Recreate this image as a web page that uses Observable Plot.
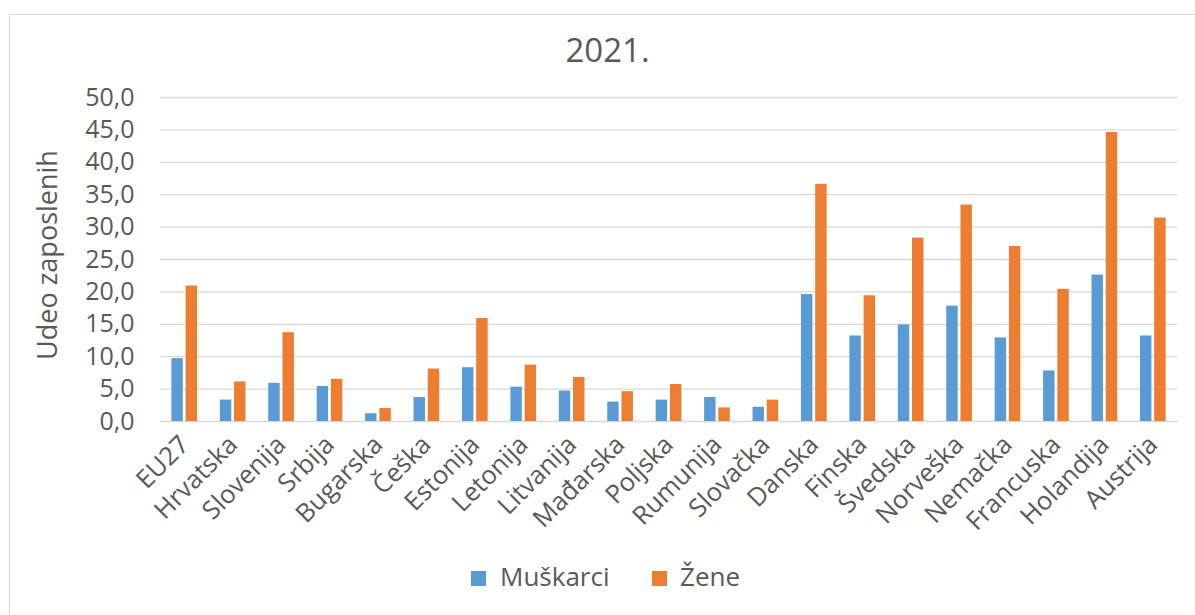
<!DOCTYPE html>
<html>
<head>
<meta charset="utf-8">
<script src="https://cdn.jsdelivr.net/npm/d3@7"></script>
<script src="https://cdn.jsdelivr.net/npm/@observablehq/plot@0.6"></script>
<style>
  html, body { margin: 0; padding: 0; background: #fff; }
  #wrap { position: relative; width: 1195px; height: 615px; overflow: hidden; font-family: "Open Sans", sans-serif; color: #595959; }
  #border { position: absolute; left: 9px; top: 14px; width: 1200px; height: 620px; border: 1px solid #d9d9d9; box-sizing: border-box; }
  #title { position: absolute; left: 0; width: 1215px; top: 30px; text-align: center; font-size: 33px; line-height: 40px; }
  #ylabel { position: absolute; left: 46px; top: 255px; transform: translate(-50%, -50%) rotate(-90deg); font-size: 27px; white-space: nowrap; }
  #chart { position: absolute; left: 0; top: 80px; }
  .sw { position: absolute; width: 15px; height: 15px; top: 571px; }
  .lt { position: absolute; top: 561px; font-size: 26px; line-height: 30px; white-space: nowrap; }
</style>
</head>
<body>
<div id="wrap">
  <div id="border"></div>
  <div id="title">2021.</div>
  <div id="ylabel">Udeo zaposlenih</div>
  <div id="chart"></div>
  <div id="legend"></div>
</div>
<script>
const countries = ["EU27","Hrvatska","Slovenija","Srbija","Bugarska","Češka","Estonija","Letonija","Litvanija","Mađarska","Poljska","Rumunija","Slovačka","Danska","Finska","Švedska","Norveška","Nemačka","Francuska","Holandija","Austrija"];
const men   = [9.7, 3.3, 5.9, 5.4, 1.2, 3.7, 8.3, 5.3, 4.7, 3.0, 3.3, 3.7, 2.2, 19.6, 13.2, 14.9, 17.8, 12.9, 7.8, 22.6, 13.2];
const women = [20.9, 6.1, 13.7, 6.5, 2.0, 8.1, 15.9, 8.7, 6.8, 4.6, 5.7, 2.1, 3.3, 36.6, 19.4, 28.3, 33.4, 27.0, 20.4, 44.6, 31.4];
const seriesNames = ["Muškarci", "Žene"];
const seriesColors = ["#5b9bd5", "#ed7d31"];
const yTicks = [0, 5, 10, 15, 20, 25, 30, 35, 40, 45, 50];

const menData = countries.map((c, i) => ({country: c, value: men[i]}));
const womenData = countries.map((c, i) => ({country: c, value: women[i]}));

const W = 1195, H = 470, ML = 160, MR = 18, MT = 17, MB = 129;
const padInner = 0.47, padOuter = 0.235;
const step = (W - ML - MR) / (countries.length - padInner + 2 * padOuter);
const bw = step * (1 - padInner);
const gap = 2.8;
const half = (bw - gap) / 2;

const chart = Plot.plot({
  width: W, height: H,
  marginLeft: ML, marginRight: MR, marginTop: MT, marginBottom: MB,
  style: {fontFamily: '"Open Sans", sans-serif', fontSize: "24px", color: "#595959", background: "transparent"},
  x: {domain: countries, paddingInner: padInner, paddingOuter: padOuter, round: false, label: null},
  y: {domain: [0, 50], label: null},
  marks: [
    Plot.ruleY(yTicks, {stroke: "#d9d9d9", strokeWidth: 1.3}),
    Plot.barY(menData, {x: "country", y: "value", fill: seriesColors[0], insetRight: bw - half}),
    Plot.barY(womenData, {x: "country", y: "value", fill: seriesColors[1], insetLeft: bw - half}),
    Plot.axisY({ticks: yTicks, tickFormat: d => d.toFixed(1).replace(".", ","), tickSize: 0, tickPadding: 26, fontSize: 25, label: null}),
    Plot.axisX({tickRotate: -45, tickSize: 0, tickPadding: 19, fontSize: 25.5, label: null})
  ]
});
document.getElementById("chart").appendChild(chart);

const legend = document.getElementById("legend");
const swX = [471, 652];
const txX = [500, 680];
seriesNames.forEach((s, i) => {
  const sw = document.createElement("div");
  sw.className = "sw";
  sw.style.left = swX[i] + "px";
  sw.style.background = seriesColors[i];
  legend.appendChild(sw);
  const t = document.createElement("div");
  t.className = "lt";
  t.style.left = txX[i] + "px";
  t.textContent = s;
  legend.appendChild(t);
});
</script>
</body>
</html>
